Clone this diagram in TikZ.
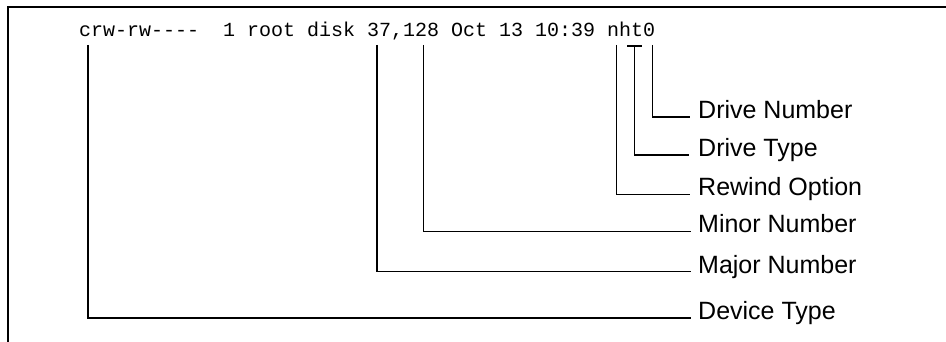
\documentclass[tikz,border=0pt]{standalone}
\usepackage{fontspec}
\setmainfont{Liberation Sans}
\newfontfamily\lsmono{Liberation Mono}
\begin{document}
\begin{tikzpicture}[x=1pt,y=-1pt,
  frame/.style={line width=2pt},
  conn/.style={line width=1.3pt},
  lab/.style={anchor=base west,inner sep=0pt,font=\fontsize{25}{30}\selectfont},
  lsline/.style={anchor=base west,inner sep=0pt,font=\lsmono\fontsize{20}{24}\selectfont}]
\useasboundingbox (0,0) rectangle (946,342);
\draw[frame] (8,342) -- (8,7) -- (946,7);
\node[lsline] (ls) at (79,36.5) {crw-rw----\ \ 1 root disk 37,128 Oct 13 10:39 nht0};
% labels
\node[lab] (dn) at (698,118.5) {Drive Number};
\node[lab] (dt) at (698,156.5) {Drive Type};
\node[lab] (ro) at (698,196) {Rewind Option};
\node[lab] (mi) at (698,233) {Minor Number};
\node[lab] (ma) at (698,273) {Major Number};
\node[lab] (dv) at (698,319.5) {Device Type};
% tick tops
\coordinate (t-dn) at (652.5,45);
\coordinate (t-dt) at (634.5,46);
\coordinate (t-ro) at (616.5,45);
\coordinate (t-mi) at (423.5,45);
\coordinate (t-ma) at (377,45);
\coordinate (t-dv) at (88,45);
\coordinate (tb-l) at (627,46);
\coordinate (tb-r) at (642,46);
% line ends
\coordinate (e-dn) at (690,117);
\coordinate (e-dt) at (689,155);
\coordinate (e-ro) at (690,194.5);
\coordinate (e-mi) at (691,231.5);
\coordinate (e-ma) at (691,271.5);
\coordinate (e-dv) at (691,318);
\draw[conn] (t-dn) |- (e-dn);
\draw[conn] (tb-l) -- (tb-r);
\draw[conn] (t-dt) |- (e-dt);
\draw[conn] (t-ro) |- (e-ro);
\draw[conn] (t-mi) |- (e-mi);
\draw[conn] (t-ma) |- (e-ma);
\draw[conn] (t-dv) |- (e-dv);
\end{tikzpicture}
\end{document}
